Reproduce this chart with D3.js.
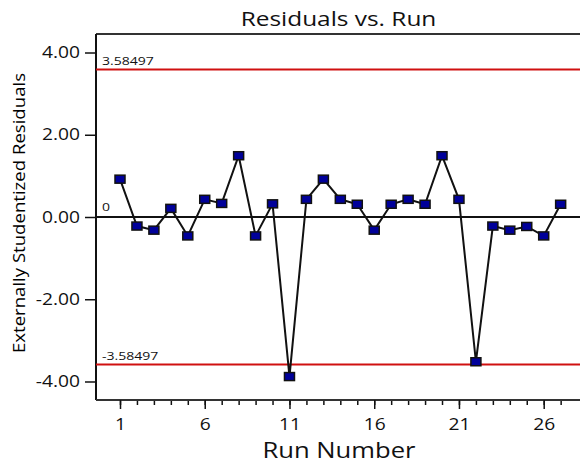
<!DOCTYPE html>
<html>
<head>
<meta charset="utf-8">
<script src="https://cdn.jsdelivr.net/npm/d3@7"></script>
<style>
  html, body { margin: 0; padding: 0; background: #fff; }
  svg { display: block; font-family: "Open Sans", "Noto Sans", sans-serif; }
</style>
</head>
<body>
<svg id="chart" width="580" height="464"></svg>
<script>
// Run order and externally studentized residuals
const runs = d3.range(1, 28);
const residuals = [0.92, -0.22, -0.32, 0.21, -0.46, 0.43, 0.33, 1.49, -0.46, 0.32,
                   -3.88, 0.43, 0.92, 0.43, 0.31, -0.32, 0.31, 0.43, 0.31, 1.49,
                   0.43, -3.52, -0.22, -0.32, -0.23, -0.46, 0.31];
const limit = 3.58497;
const yTicks = [-4, -2, 0, 2, 4];
const xMajorTicks = [1, 6, 11, 16, 21, 26];

const svg = d3.select("#chart");
const plotL = 96, plotR = 580, plotT = 34, plotB = 400;

const x = d3.scaleLinear().domain([1, 26]).range([120, 543.7]);
const y = d3.scaleLinear().domain([-4.45, 4.45]).range([plotB, plotT]);

// Horizontally widen text glyphs by factor k
function widen(sel, k) {
  sel.each(function () {
    const len = this.getComputedTextLength();
    d3.select(this).attr("textLength", len * k).attr("lengthAdjust", "spacingAndGlyphs");
  });
}

// Title
svg.append("text")
  .attr("x", 338.5).attr("y", 26)
  .attr("text-anchor", "middle")
  .attr("font-size", 20).attr("fill", "#111")
  .text("Residuals vs. Run")
  .call(widen, 1.22);

// Frame top edge
svg.append("line")
  .attr("x1", plotL).attr("x2", plotR).attr("y1", plotT).attr("y2", plotT)
  .attr("stroke", "#333").attr("stroke-width", 2);

// Y axis
const yAxis = d3.axisLeft(y).tickValues(yTicks).tickFormat(d3.format(".2f"))
  .tickSize(11).tickPadding(5);
const gy = svg.append("g").attr("transform", `translate(${plotL},0)`).call(yAxis);
gy.select(".domain").attr("stroke", "#111").attr("stroke-width", 2)
  .attr("d", `M0,${plotT}V${plotB}`);
gy.selectAll(".tick line").attr("stroke", "#111").attr("stroke-width", 1.5);
gy.selectAll(".tick text").attr("font-size", 16).attr("fill", "#111")
  .attr("font-family", "'Open Sans', sans-serif")
  .text(d => d3.format(".2f")(d).replace("−", "-"))
  .call(widen, 1.2);

// X axis: minor ticks at every run, longer ticks every five runs
const xMinor = d3.axisBottom(x).tickValues(runs).tickSize(5).tickFormat("");
const gxm = svg.append("g").attr("transform", `translate(0,${plotB})`).call(xMinor);
gxm.select(".domain").remove();
gxm.selectAll(".tick line").attr("stroke", "#111").attr("stroke-width", 1.5);

const xAxis = d3.axisBottom(x).tickValues(xMajorTicks).tickSize(9).tickPadding(10)
  .tickFormat(d3.format("d"));
const gx = svg.append("g").attr("transform", `translate(0,${plotB})`).call(xAxis);
gx.select(".domain").attr("stroke", "#333").attr("stroke-width", 2)
  .attr("d", `M${plotL},0H${plotR}`);
gx.selectAll(".tick line").attr("stroke", "#111").attr("stroke-width", 1.5);
gx.selectAll(".tick text").attr("font-size", 16).attr("fill", "#111")
  .attr("font-family", "'Open Sans', sans-serif")
  .call(widen, 1.2);

// Axis titles
svg.append("text")
  .attr("x", 339).attr("y", 458)
  .attr("text-anchor", "middle")
  .attr("font-size", 21).attr("fill", "#111")
  .text("Run Number")
  .call(widen, 1.22);

svg.append("text")
  .attr("transform", `translate(25,213) rotate(-90)`)
  .attr("text-anchor", "middle")
  .attr("font-size", 16.5).attr("fill", "#000")
  .attr("textLength", 280).attr("lengthAdjust", "spacingAndGlyphs")
  .text("Externally Studentized Residuals");

// Reference lines: zero and ± limit
svg.append("line")
  .attr("x1", plotL).attr("x2", plotR).attr("y1", y(0)).attr("y2", y(0))
  .attr("stroke", "#111").attr("stroke-width", 2);
[limit, -limit].forEach(v => {
  svg.append("line")
    .attr("x1", plotL).attr("x2", plotR).attr("y1", y(v)).attr("y2", y(v))
    .attr("stroke", "#d01010").attr("stroke-width", 2);
  svg.append("text")
    .attr("x", 102).attr("y", y(v) - 4.5)
    .attr("font-size", 11.5).attr("fill", "#111")
    .text(d3.format(".5f")(v).replace("−", "-"))
    .call(widen, 1.22);
});
svg.append("text")
  .attr("x", 102).attr("y", y(0) - 6)
  .attr("font-size", 11.5).attr("fill", "#111")
  .text("0")
  .call(widen, 1.22);

// Residual trace and markers
const pts = runs.map((r, i) => ({ run: r, value: residuals[i] }));
svg.append("path")
  .datum(pts)
  .attr("fill", "none").attr("stroke", "#111").attr("stroke-width", 2)
  .attr("d", d3.line().x(d => x(d.run)).y(d => y(d.value)));

svg.append("g").selectAll("rect")
  .data(pts).join("rect")
  .attr("x", d => x(d.run) - 5).attr("y", d => y(d.value) - 4)
  .attr("width", 10).attr("height", 8)
  .attr("fill", "#00009a").attr("stroke", "#111").attr("stroke-width", 1.5);
</script>
</body>
</html>
